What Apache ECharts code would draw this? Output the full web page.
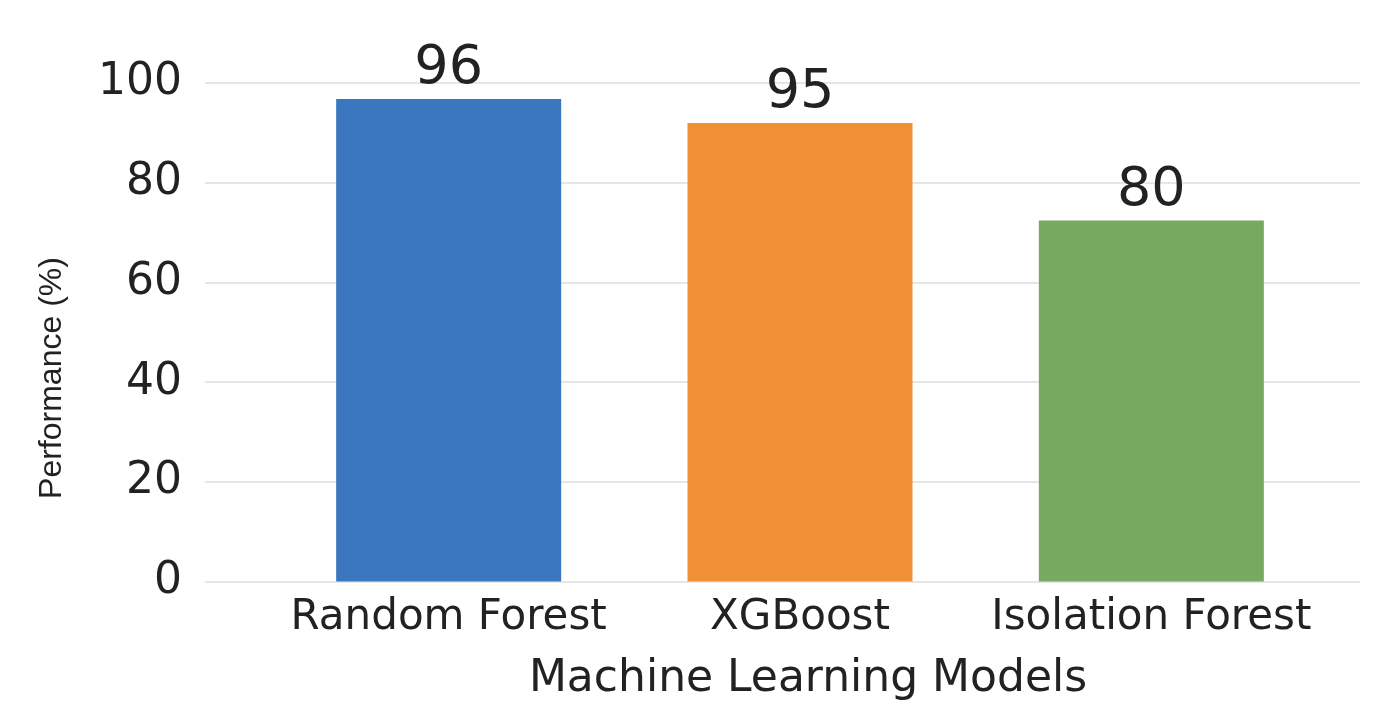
<!DOCTYPE html>
<html>
<head>
<meta charset="utf-8">
<script src="https://cdn.jsdelivr.net/npm/echarts@6/dist/echarts.min.js"></script>
<style>
html,body{margin:0;padding:0;background:#fff;}
#chart{width:1384px;height:721px;}
</style>
</head>
<body>
<div id="chart"></div>
<script>
const categories = ['Random Forest', 'XGBoost', 'Isolation Forest'];
const barValues = [96.8, 92.0, 72.4];
const barLabels = ['96', '95', '80'];
const barColors = ['#3A77BF', '#F18F37', '#77AA5E'];
const yMin = 0, yMax = 100, yInterval = 20;
const yTitle = 'Performance (%)';
const xTitle = 'Machine Learning Models';

const FONT = 'DejaVu Sans';
const chart = echarts.init(document.getElementById('chart'));
chart.setOption({
  animation: false,
  backgroundColor: '#ffffff',
  grid: [
    {left: 205, right: 24, top: 83, bottom: 139.5},
    {left: 273, right: 57, top: 83, bottom: 139.5}
  ],
  xAxis: [
    {gridIndex: 0, type: 'category', data: categories, show: false},
    {gridIndex: 1, type: 'category', data: categories,
     axisLine: {show: false}, axisTick: {show: false},
     axisLabel: {fontFamily: FONT, fontSize: 42, color: '#222', margin: 16, interval: 0},
     name: xTitle, nameLocation: 'middle', nameGap: 76,
     nameTextStyle: {fontFamily: FONT, fontSize: 44, color: '#222', padding: [0, 0, 0, 16]}}
  ],
  yAxis: [
    {gridIndex: 0, type: 'value', min: yMin, max: yMax, interval: yInterval,
     axisLine: {show: false}, axisTick: {show: false},
     axisLabel: {fontFamily: FONT, fontSize: 44, color: '#222', margin: 23},
     splitLine: {lineStyle: {color: '#E6E6E6', width: 2}}},
    {gridIndex: 1, type: 'value', min: yMin, max: yMax, interval: yInterval, show: false,
     splitLine: {show: false}}
  ],
  series: [{
    type: 'bar',
    xAxisIndex: 1, yAxisIndex: 1,
    barWidth: 225,
    data: barValues.map((v, i) => ({value: v, itemStyle: {color: barColors[i]}})),
    label: {
      show: true, position: 'top', distance: 3,
      fontFamily: FONT, fontSize: 54, color: '#222',
      formatter: p => barLabels[p.dataIndex]
    }
  }],
  graphic: [{
    type: 'text', x: 52, y: 378, rotation: Math.PI / 2,
    style: {text: yTitle, fontFamily: 'Liberation Sans', fontSize: 32, fill: '#222',
            align: 'center', verticalAlign: 'middle'}
  }]
});
</script>
</body>
</html>
